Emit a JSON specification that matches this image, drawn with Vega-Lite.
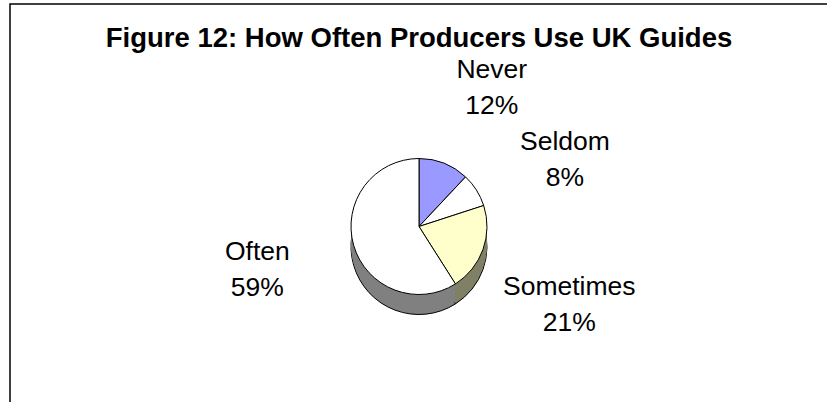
{
  "$schema": "https://vega.github.io/schema/vega-lite/v6.json",
  "width": 818,
  "height": 445,
  "autosize": {"type": "none"},
  "padding": {"left": 10, "top": 4, "right": 0, "bottom": 0},
  "background": "white",
  "view": {"stroke": "black", "strokeWidth": 1.5, "fill": null},
  "title": {
    "text": "Figure 12: How Often Producers Use UK Guides",
    "font": "Liberation Sans",
    "fontSize": 27.5,
    "fontWeight": "bold",
    "color": "black",
    "anchor": "middle",
    "baseline": "alphabetic",
    "offset": 0,
    "dy": 70
  },
  "data": {
    "values": [
      {"answer": "Never", "share": 0.12, "rank": 1},
      {"answer": "Seldom", "share": 0.08, "rank": 2},
      {"answer": "Sometimes", "share": 0.21, "rank": 3},
      {"answer": "Often", "share": 0.59, "rank": 4}
    ]
  },
  "encoding": {
    "theta": {"field": "share", "type": "quantitative", "stack": true},
    "order": {"field": "rank", "type": "ordinal"}
  },
  "layer": [
    {"mark": {"type": "arc", "radius": 68, "yOffset": 20, "stroke": "black", "strokeWidth": 1},
     "encoding": {"color": {"field": "answer", "type": "nominal", "legend": null, "scale": {"domain": ["Never", "Seldom", "Sometimes", "Often"], "range": ["#4D4D80", "#808080", "#808066", "#808080"]}}}},
    {"mark": {"type": "arc", "radius": 68, "yOffset": 18},
     "encoding": {"color": {"field": "answer", "type": "nominal", "legend": null, "scale": {"domain": ["Never", "Seldom", "Sometimes", "Often"], "range": ["#4D4D80", "#808080", "#808066", "#808080"]}}}},
    {"mark": {"type": "arc", "radius": 68, "yOffset": 16},
     "encoding": {"color": {"field": "answer", "type": "nominal", "legend": null, "scale": {"domain": ["Never", "Seldom", "Sometimes", "Often"], "range": ["#4D4D80", "#808080", "#808066", "#808080"]}}}},
    {"mark": {"type": "arc", "radius": 68, "yOffset": 14},
     "encoding": {"color": {"field": "answer", "type": "nominal", "legend": null, "scale": {"domain": ["Never", "Seldom", "Sometimes", "Often"], "range": ["#4D4D80", "#808080", "#808066", "#808080"]}}}},
    {"mark": {"type": "arc", "radius": 68, "yOffset": 12},
     "encoding": {"color": {"field": "answer", "type": "nominal", "legend": null, "scale": {"domain": ["Never", "Seldom", "Sometimes", "Often"], "range": ["#4D4D80", "#808080", "#808066", "#808080"]}}}},
    {"mark": {"type": "arc", "radius": 68, "yOffset": 10},
     "encoding": {"color": {"field": "answer", "type": "nominal", "legend": null, "scale": {"domain": ["Never", "Seldom", "Sometimes", "Often"], "range": ["#4D4D80", "#808080", "#808066", "#808080"]}}}},
    {"mark": {"type": "arc", "radius": 68, "yOffset": 8},
     "encoding": {"color": {"field": "answer", "type": "nominal", "legend": null, "scale": {"domain": ["Never", "Seldom", "Sometimes", "Often"], "range": ["#4D4D80", "#808080", "#808066", "#808080"]}}}},
    {"mark": {"type": "arc", "radius": 68, "yOffset": 6},
     "encoding": {"color": {"field": "answer", "type": "nominal", "legend": null, "scale": {"domain": ["Never", "Seldom", "Sometimes", "Often"], "range": ["#4D4D80", "#808080", "#808066", "#808080"]}}}},
    {"mark": {"type": "arc", "radius": 68, "yOffset": 4},
     "encoding": {"color": {"field": "answer", "type": "nominal", "legend": null, "scale": {"domain": ["Never", "Seldom", "Sometimes", "Often"], "range": ["#4D4D80", "#808080", "#808066", "#808080"]}}}},
    {"mark": {"type": "arc", "radius": 68, "yOffset": 2},
     "encoding": {"color": {"field": "answer", "type": "nominal", "legend": null, "scale": {"domain": ["Never", "Seldom", "Sometimes", "Often"], "range": ["#4D4D80", "#808080", "#808066", "#808080"]}}}},
    {"mark": {"type": "arc", "radius": 68, "stroke": "black", "strokeWidth": 1},
     "encoding": {"color": {"field": "answer", "type": "nominal", "legend": null, "scale": {"domain": ["Never", "Seldom", "Sometimes", "Often"], "range": ["#9999FF", "#FFFFFF", "#FFFFCC", "#FFFFFF"]}}}},
    {"mark": {"type": "text", "radius": 165, "thetaOffset": 0.08, "yOffset": 10, "font": "Liberation Sans", "fontSize": 26.5, "color": "black", "dy": -18},
     "encoding": {"text": {"field": "answer", "type": "nominal"}}},
    {"mark": {"type": "text", "radius": 165, "thetaOffset": 0.08, "yOffset": 10, "font": "Liberation Sans", "fontSize": 26.5, "color": "black", "dy": 18},
     "encoding": {"text": {"field": "share", "type": "quantitative", "format": ".0%"}}}
  ],
  "resolve": {"scale": {"color": "independent"}}
}
